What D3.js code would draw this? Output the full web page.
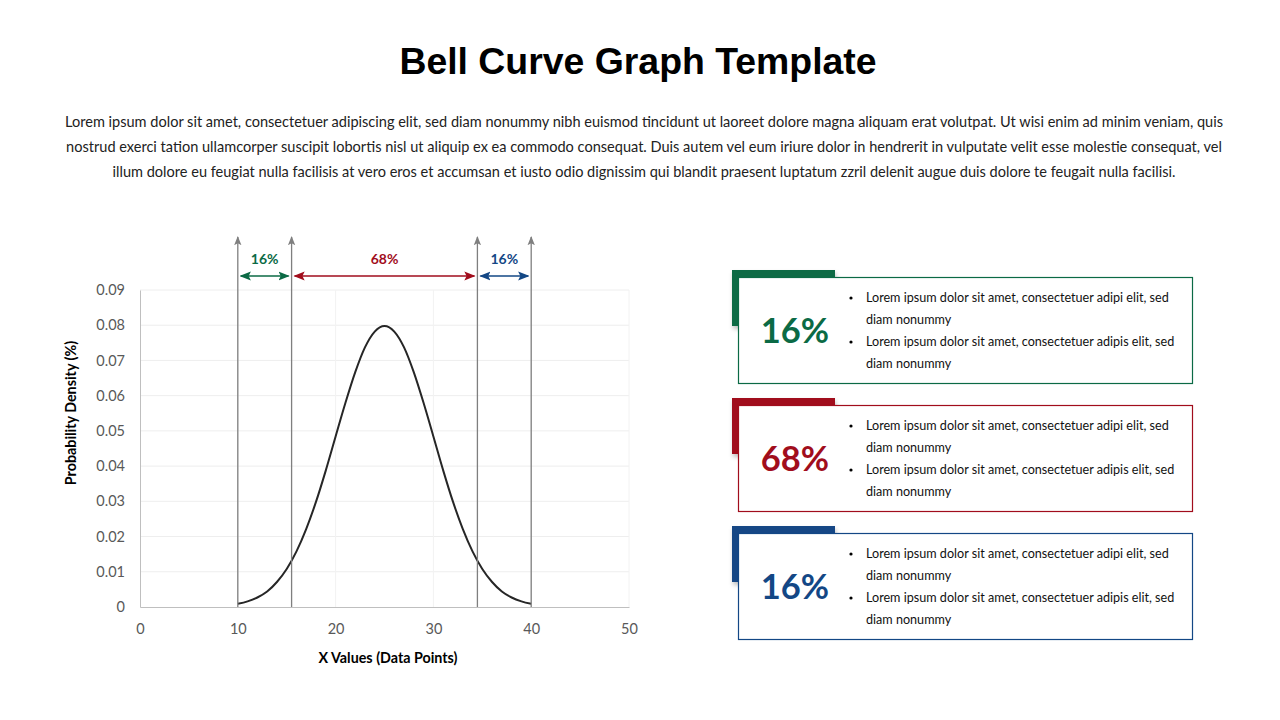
<!DOCTYPE html>
<html><head><meta charset="utf-8">
<script src="https://cdn.jsdelivr.net/npm/d3@7"></script>
<style>
html,body{margin:0;padding:0;background:#fff;}
svg{display:block;}
</style></head>
<body>
<svg id="c" width="1280" height="720"></svg>
<script>
// ---- data ----
const titleText = "Bell Curve Graph Template";
const paragraphLines = [
  "Lorem ipsum dolor sit amet, consectetuer adipiscing elit, sed diam nonummy nibh euismod tincidunt ut laoreet dolore magna aliquam erat volutpat. Ut wisi enim ad minim veniam, quis",
  "nostrud exerci tation ullamcorper suscipit lobortis nisl ut aliquip ex ea commodo consequat. Duis autem vel eum iriure dolor in hendrerit in vulputate velit esse molestie consequat, vel",
  "illum dolore eu feugiat nulla facilisis at vero eros et accumsan et iusto odio dignissim qui blandit praesent luptatum zzril delenit augue duis dolore te feugait nulla facilisi."
];
const curveX = [10,11,12,13,14,15,16,17,18,19,20,21,22,23,24,25,26,27,28,29,30,31,32,33,34,35,36,37,38,39,40];
const curveY = [0.0009,0.0016,0.0027,0.0044,0.0071,0.0108,0.0158,0.0222,0.0299,0.0388,0.0484,0.0579,0.0666,0.0737,0.0782,0.0798,
                0.0782,0.0737,0.0666,0.0579,0.0484,0.0388,0.0299,0.0222,0.0158,0.0108,0.0071,0.0044,0.0027,0.0016,0.0009];
const markerX = [10, 15.5, 34.5, 40];
const bandLabels = ["16%","68%","16%"];
const bandColors = ["#0b6a45","#a10d1c","#134785"];
const xTicks = [0,10,20,30,40,50];
const yTicks = [0,0.01,0.02,0.03,0.04,0.05,0.06,0.07,0.08,0.09];
const xTitle = "X Values (Data Points)";
const yTitle = "Probability Density (%)";
const cardValues = ["16%","68%","16%"];
const cardBullets = [
  ["Lorem ipsum dolor sit amet, consectetuer adipi elit, sed|diam nonummy","Lorem ipsum dolor sit amet, consectetuer adipis elit, sed|diam nonummy"],
  ["Lorem ipsum dolor sit amet, consectetuer adipi elit, sed|diam nonummy","Lorem ipsum dolor sit amet, consectetuer adipis elit, sed|diam nonummy"],
  ["Lorem ipsum dolor sit amet, consectetuer adipi elit, sed|diam nonummy","Lorem ipsum dolor sit amet, consectetuer adipis elit, sed|diam nonummy"]
];

const svg = d3.select("#c");
const FONT = "Lato, 'Noto Sans', sans-serif";

// title
svg.append("text").attr("x",638).attr("y",74).attr("text-anchor","middle")
  .style("font-family","'Liberation Sans', Arial, sans-serif").style("font-weight","700")
  .style("font-size","37.4px").attr("fill","#000").text(titleText);

// paragraph
svg.append("g").selectAll("text").data(paragraphLines).join("text")
  .attr("x",644).attr("y",(d,i)=>127+i*25).attr("text-anchor","middle")
  .style("font-family",FONT).style("font-size","14.55px").attr("fill","#222")
  .text(d=>d);

// chart
const x = d3.scaleLinear().domain([0,50]).range([140,629]);
const y = d3.scaleLinear().domain([0,0.09]).range([607,290]);

const defs = svg.append("defs");
function marker(id,color,orient){
  defs.append("marker").attr("id",id).attr("viewBox","0 0 10 10").attr("refX",9).attr("refY",5)
    .attr("markerWidth",7).attr("markerHeight",7).attr("orient",orient)
    .append("path").attr("d","M0,1 L10,5 L0,9 L2,5 Z").attr("fill",color);
}
marker("mGray","#7f7f7f","auto");
bandColors.forEach((c,i)=>marker("m"+i,c,"auto-start-reverse"));

// grid
svg.append("g").selectAll("line").data(yTicks.slice(1)).join("line")
  .attr("x1",x(0)).attr("x2",x(50)).attr("y1",d=>y(d)).attr("y2",d=>y(d))
  .attr("stroke","#eeeeee").attr("stroke-width",1);
svg.append("g").selectAll("line").data(xTicks.slice(1)).join("line")
  .attr("x1",d=>x(d)).attr("x2",d=>x(d)).attr("y1",y(0)).attr("y2",y(0.09))
  .attr("stroke","#f2f2f2").attr("stroke-width",1);

// axes
const xAxis = d3.axisBottom(x).tickValues(xTicks).tickSize(0).tickPadding(17).tickFormat(d3.format("d"));
const gx = svg.append("g").attr("transform",`translate(0,${y(0)})`).call(xAxis);
gx.select(".domain").attr("stroke","#bfbfbf");
gx.selectAll("text").style("font-family",FONT).style("font-size","14.5px").attr("fill","#595959");

const yAxis = d3.axisLeft(y).tickValues(yTicks).tickSize(0).tickPadding(15)
  .tickFormat(d=> d===0 ? "0" : d3.format(".2f")(d));
const gy = svg.append("g").attr("transform",`translate(${x(0)},0)`).call(yAxis);
gy.select(".domain").attr("stroke","#bfbfbf");
gy.selectAll("text").style("font-family",FONT).style("font-size","14.5px").attr("fill","#595959");

// axis titles
svg.append("text").attr("x",388).attr("y",663).attr("text-anchor","middle")
  .style("font-family",FONT).style("font-weight","700").style("font-size","14.3px").attr("fill","#000").text(xTitle);
svg.append("text").attr("transform","translate(76,413) rotate(-90)").attr("text-anchor","middle")
  .style("font-family",FONT).style("font-weight","700").style("font-size","14.3px").attr("fill","#000").text(yTitle);

// curve
const pts = curveX.map((d,i)=>[d,curveY[i]]);
svg.append("path").datum(pts)
  .attr("d",d3.line().x(d=>x(d[0])).y(d=>y(d[1])).curve(d3.curveMonotoneX))
  .attr("fill","none").attr("stroke","#262626").attr("stroke-width",2);

// vertical marker lines
svg.append("g").selectAll("line").data(markerX).join("line")
  .attr("x1",d=>x(d)).attr("x2",d=>x(d)).attr("y1",y(0)).attr("y2",237)
  .attr("stroke","#7f7f7f").attr("stroke-width",1.3).attr("marker-end","url(#mGray)");

// band arrows
const bands = bandLabels.map((l,i)=>({label:l,x0:markerX[i],x1:markerX[i+1],color:bandColors[i]}));
const gb = svg.append("g");
gb.selectAll("line").data(bands).join("line")
  .attr("x1",d=>x(d.x0)+3).attr("x2",d=>x(d.x1)-3).attr("y1",276).attr("y2",276)
  .attr("stroke",d=>d.color).attr("stroke-width",1.6)
  .attr("marker-start",(d,i)=>`url(#m${i})`).attr("marker-end",(d,i)=>`url(#m${i})`);
gb.selectAll("text").data(bands).join("text")
  .attr("x",d=>(x(d.x0)+x(d.x1))/2).attr("y",264).attr("text-anchor","middle")
  .style("font-family",FONT).style("font-weight","700").style("font-size","14px")
  .attr("fill",d=>d.color).text(d=>d.label);

// cards
const shadow = defs.append("filter").attr("id","sh").attr("x","-20%").attr("y","-20%").attr("width","150%").attr("height","150%");
shadow.append("feDropShadow").attr("dx",1).attr("dy",3).attr("stdDeviation",2).attr("flood-color","#000").attr("flood-opacity",0.25);

cardValues.forEach((v,i)=>{
  const top = 270 + i*128;
  const c = bandColors[i];
  const g = svg.append("g");
  g.append("rect").attr("x",732).attr("y",top).attr("width",103).attr("height",56).attr("fill",c).attr("filter","url(#sh)");
  g.append("rect").attr("x",738.5).attr("y",top+7.5).attr("width",454).attr("height",106)
    .attr("fill","#fff").attr("stroke",c).attr("stroke-width",1.2);
  g.append("text").attr("x",795).attr("y",top+73).attr("text-anchor","middle")
    .style("font-family",FONT).style("font-weight","700").style("font-size","34.5px").attr("fill",c).text(v);
  let line = 0;
  cardBullets[i].forEach(b=>{
    const parts = b.split("|");
    g.append("circle").attr("cx",851).attr("cy",top+32+line*22-4).attr("r",1.6).attr("fill","#000");
    parts.forEach(p=>{
      g.append("text").attr("x",866).attr("y",top+32+line*22)
        .style("font-family",FONT).style("font-size","12.6px").attr("fill","#111").text(p);
      line++;
    });
  });
});
</script>
</body></html>
